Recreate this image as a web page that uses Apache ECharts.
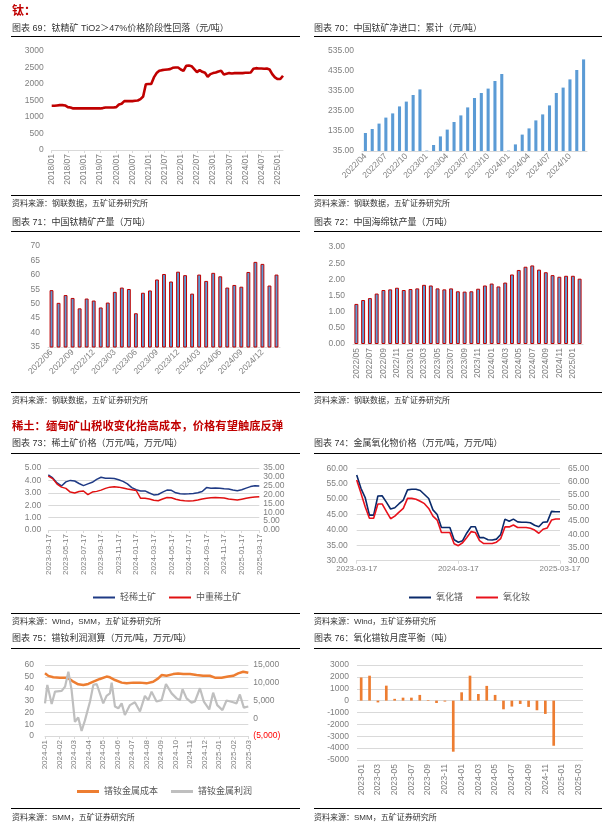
<!DOCTYPE html>
<html><head><meta charset="utf-8">
<script src="https://cdn.jsdelivr.net/npm/echarts/dist/echarts.min.js"></script>
<style>html,body{margin:0;padding:0;background:#fff}#c{width:611px;height:829px}</style>
</head><body><div id="c"></div>
<script>
function monthRange(y, m, n, sep) {
  const out = [];
  for (let i = 0; i < n; i++) {
    const mm = m - 1 + i;
    out.push((y + Math.floor(mm / 12)) + sep + String(mm % 12 + 1).padStart(2, '0'));
  }
  return out;
}
// ---- Chart 69: ilmenite price (元/吨), monthly 2018/01 - 2025/03
const months69 = monthRange(2018, 1, 87, '/');
const price69 = [1340,1340,1350,1360,1360,1350,1300,1290,1260,
  1260,1260,1260,1260,1260,1260,1260,1260,1260,1260,
  1270,1290,1290,1290,1290,
  1300,1380,1400,1480,1480,1480,1480,1490,1500,1540,1620,1990,
  2000,2000,2200,2330,2400,2420,2430,2440,2450,2490,2500,2500,
  2440,2400,2550,2560,2540,2450,2360,2420,2370,2340,2220,2300,
  2330,2350,2380,2400,2290,2310,2330,2320,2330,2330,2330,2330,
  2340,2340,2350,2460,2480,2470,2470,2460,2470,2440,2300,2200,
  2150,2150,2250];
// ---- Chart 70: titanium ore net import, cumulative
const cat70 = monthRange(2022, 4, 33, '/');
const imp70 = [125,145,172,202,223,258,282,315,343,
  37,65,108,142,180,213,253,300,325,347,385,420,
  37,68,117,148,188,218,263,325,352,393,440,493];
// ---- Chart 71: ilmenite output (万吨)
const cat71 = monthRange(2022, 6, 33, '/');
const prod71 = [54.7,50.3,53.0,52.0,48.4,51.8,51.1,48.7,50.4,54.1,55.6,55.1,46.7,53.8,54.6,58.4,60.3,
  57.7,61.1,59.9,53.5,60.1,57.9,60.7,59.5,55.6,56.5,55.9,61.0,64.5,63.8,56.3,60.1];
// ---- Chart 72: titanium sponge output (万吨)
const cat72 = monthRange(2022, 5, 34, '/');
const prod72 = [1.24,1.36,1.42,1.56,1.67,1.69,1.74,1.67,1.70,1.72,1.83,1.81,1.72,1.69,1.72,1.63,1.62,
  1.63,1.71,1.81,1.87,1.78,1.90,2.15,2.29,2.39,2.43,2.30,2.22,2.13,2.08,2.11,2.11,2.02];
// ---- Chart 73: rare earth ore prices, half-monthly 2023-03-17 .. 2025-03-17
const ticks73 = ['2023-03-17','2023-05-17','2023-07-17','2023-09-17','2023-11-17','2024-01-17','2024-03-17',
  '2024-05-17','2024-07-17','2024-09-17','2024-11-17','2025-01-17','2025-03-17'];
const light73 = [4.45,4.20,3.80,3.55,3.88,4.00,3.95,3.75,3.58,3.72,3.85,4.08,4.25,4.18,4.17,4.15,4.05,3.92,
  3.72,3.42,3.25,3.15,3.15,2.98,2.83,2.86,3.05,3.22,3.20,3.00,2.92,2.90,2.92,2.95,3.00,3.10,3.42,3.36,
  3.38,3.36,3.32,3.30,3.22,3.17,3.25,3.38,3.50,3.57,3.55];
const heavy73 = [30.4,29.0,25.9,24.2,23.5,21.4,20.9,21.7,22.0,20.0,21.4,21.8,22.5,23.5,24.2,24.4,24.2,23.7,
  23.1,22.7,22.3,17.9,17.9,17.5,16.8,16.5,17.5,18.3,18.2,17.4,16.8,16.5,16.4,16.5,16.9,17.5,17.9,18.2,
  18.3,18.2,18.1,17.5,17.2,16.9,17.4,17.9,18.3,18.6,18.8];
// ---- Chart 74: oxide prices, half-monthly
const ticks74 = ['2023-03-17','2024-03-17','2025-03-17'];
const pr74 = [57.8,53.5,50.5,44.8,44.8,51.0,51.1,49.0,46.8,47.2,48.5,49.7,53.0,53.2,53.2,52.8,51.5,50.2,
  46.5,45.0,40.8,40.8,40.8,36.8,36.0,36.5,39.0,41.0,41.0,37.5,37.5,36.8,36.7,37.0,38.5,43.5,42.8,43.5,
  42.6,42.5,42.5,42.3,41.5,41.0,42.5,42.6,46.0,45.9,45.9];
const nd74 = [60.6,55.6,50.4,46.1,46.1,51.5,51.5,48.7,45.9,46.9,48.4,49.8,53.6,53.6,53.3,52.5,51.6,49.8,
  46.9,45.4,40.7,40.7,40.7,36.4,35.7,36.8,38.8,41.0,40.7,37.6,36.5,36.5,36.5,37.0,38.4,42.8,42.8,43.5,
  42.6,42.6,42.6,42.3,41.6,40.4,41.9,42.4,45.4,45.8,45.8];
// ---- Chart 75: PrNd cost & profit (time in months from 2024-01)
const ticks75 = monthRange(2024, 1, 15, '-');
const costT75 = [0,0.23,0.57,1.03,1.49,1.72,1.95,2.29,2.64,2.98,3.33,3.78,4.24,4.47,4.82,5.28,5.62,6.08,6.54,
  6.99,7.45,7.8,8.03,8.37,8.83,9.17,9.52,9.98,10.44,10.89,11.35,11.7,12.16,12.61,12.96,13.3,13.65,14.0];
const costV75 = [53.0,50.8,49.6,49.3,49.3,47.9,45.9,43.7,43.1,44.0,45.9,48.2,50.2,49.6,47.3,45.1,44.5,45.1,45.1,
  44.5,45.9,48.7,51.5,50.9,52.3,52.9,52.4,52.4,51.5,50.9,50.9,49.3,49.3,50.2,50.9,52.9,54.3,53.4];
const profitT75 = [0,0.16,0.46,0.69,1.15,1.38,1.61,1.83,2.06,2.29,2.52,2.75,3.1,3.33,3.56,3.78,4.01,4.24,4.47,
  4.59,4.82,5.05,5.28,5.5,5.85,6.19,6.54,6.88,7.11,7.34,7.68,8.03,8.33,8.72,9.06,9.29,9.47,9.75,10.09,
  10.32,10.67,10.94,11.31,11.58,11.86,12.22,12.5,12.96,13.19,13.42,13.69,14.0];
const profitV75 = [4200,9400,4000,7500,7700,8900,13100,8000,-1000,200,-3600,-600,4700,9400,9650,7000,4200,
  6300,7000,10000,3300,2800,4200,900,3700,4500,1900,6300,5100,7500,4700,5100,9650,7000,5600,5100,8200,
  5600,4400,4700,8450,4700,2500,7200,3700,2300,5000,4500,4200,6700,3000,3300];
// ---- Chart 76: PrNd oxide monthly balance (吨)
const cat76 = monthRange(2023, 1, 27, '-');
const bal76 = [1950,2100,-150,1260,150,250,250,480,50,-200,-80,-4300,700,2100,560,1240,480,-730,-500,-280,
  -530,-810,-1120,-3800,null,null,null];

const FF = "'Liberation Sans','Noto Sans CJK SC',sans-serif";
const LBL = '#7f7f7f';
const GRIDC = '#d9d9d9';
const pairs = (t, v) => v.map((y, i) => [t ? t[i] : i, y]);
const fx2 = v => v.toFixed(2);
const plain = v => String(v);

function catX(grid, data, interval, rotate, extra) {
  return Object.assign({
    type: 'category', gridIndex: grid, data: data,
    axisLine: {lineStyle: {color: GRIDC}},
    axisTick: {show: false},
    axisLabel: {interval: interval, rotate: rotate, fontSize: 8.5, color: LBL, margin: 4, fontFamily: FF},
    splitLine: {show: false}
  }, extra || {});
}
function valX(grid, max, interval, fmt, rotate) {
  return {
    type: 'value', gridIndex: grid, min: 0, max: max, interval: interval,
    axisLine: {lineStyle: {color: GRIDC}},
    axisTick: {show: true, length: 3, lineStyle: {color: GRIDC}},
    axisLabel: {formatter: fmt, rotate: rotate, fontSize: 8, color: LBL, margin: 4, fontFamily: FF, showMinLabel: true, showMaxLabel: true},
    splitLine: {show: false}
  };
}
function valY(grid, min, max, interval, fmt, split, pos, margin) {
  return {
    type: 'value', gridIndex: grid, min: min, max: max, interval: interval, position: pos || 'left',
    axisLine: {show: false}, axisTick: {show: false},
    axisLabel: {formatter: fmt || plain, fontSize: 8.5, color: LBL, margin: margin || 8, fontFamily: FF},
    splitLine: {show: !!split, lineStyle: {color: GRIDC, width: 1}}
  };
}

const texts = [
  ['钛：', 12, 12, 'bold 12px', '#C00000'],
  ['图表 69：钛精矿 TiO2＞47%价格阶段性回落（元/吨）', 12, 29, '9px', '#333'],
  ['图表 70：中国钛矿净进口：累计（元/吨）', 314, 29, '9px', '#333'],
  ['资料来源：钢联数据，五矿证券研究所', 12, 204, '8px', '#333'],
  ['资料来源：钢联数据，五矿证券研究所', 314, 204, '8px', '#333'],
  ['图表 71：中国钛精矿产量（万吨）', 12, 223, '9px', '#333'],
  ['图表 72：中国海绵钛产量（万吨）', 314, 223, '9px', '#333'],
  ['资料来源：钢联数据，五矿证券研究所', 12, 401, '8px', '#333'],
  ['资料来源：钢联数据，五矿证券研究所', 314, 401, '8px', '#333'],
  ['稀土：缅甸矿山税收变化抬高成本，价格有望触底反弹', 12, 427, 'bold 11.3px', '#C00000'],
  ['图表 73：稀土矿价格（万元/吨，万元/吨）', 12, 444, '9px', '#333'],
  ['图表 74：金属氧化物价格（万元/吨，万元/吨）', 314, 444, '9px', '#333'],
  ['资料来源：Wind，SMM，五矿证券研究所', 12, 622, '8px', '#333'],
  ['资料来源：Wind，五矿证券研究所', 314, 622, '8px', '#333'],
  ['图表 75：镨钕利润测算（万元/吨，万元/吨）', 12, 639, '9px', '#333'],
  ['图表 76：氧化镨钕月度平衡（吨）', 314, 639, '9px', '#333'],
  ['资料来源：SMM，五矿证券研究所', 12, 818, '8px', '#333'],
  ['资料来源：SMM，五矿证券研究所', 314, 818, '8px', '#333']
];
const ruleY = [36, 195, 231, 392, 453, 613, 648, 808];
const graphic = [];
texts.forEach(t => graphic.push({type: 'text', x: t[1], y: t[2], silent: true,
  style: {text: t[0], font: t[3] + ' ' + FF, fill: t[4], verticalAlign: 'middle'}}));
ruleY.forEach(y => {
  graphic.push({type: 'line', silent: true, shape: {x1: 11, y1: y + 0.5, x2: 300, y2: y + 0.5}, style: {stroke: '#000', lineWidth: 1}});
  graphic.push({type: 'line', silent: true, shape: {x1: 314, y1: y + 0.5, x2: 602, y2: y + 0.5}, style: {stroke: '#000', lineWidth: 1}});
});

const legendBase = {icon: 'rect', itemWidth: 22, itemHeight: 2, itemGap: 13,
  textStyle: {fontSize: 9, color: '#595959', fontFamily: FF}};

const option = {
  animation: false,
  textStyle: {fontFamily: FF},
  graphic: graphic,
  grid: [
    {left: 51.7, top: 51, width: 231.3, height: 99},
    {left: 362, top: 51, width: 225, height: 100},
    {left: 48, top: 246, width: 232, height: 101},
    {left: 353, top: 247, width: 230, height: 97},
    {left: 48.3, top: 468, width: 211, height: 62},
    {left: 356.7, top: 468.3, width: 203.3, height: 92.4},
    {left: 45, top: 665, width: 203.3, height: 71},
    {left: 357, top: 665, width: 226, height: 95}
  ],
  legend: [
    Object.assign({}, legendBase, {data: ['轻稀土矿', '中重稀土矿'], left: 88, top: 588}),
    Object.assign({}, legendBase, {data: ['氧化镨', '氧化钕'], left: 404, top: 588}),
    Object.assign({}, legendBase, {data: ['镨钕金属成本', '镨钕金属利润'], left: 72, top: 782, itemHeight: 3})
  ],
  xAxis: [
    catX(0, months69, 5, 90, {boundaryGap: false, axisTick: {show: true, interval: 5, length: 3, lineStyle: {color: GRIDC}}}),
    catX(1, cat70, 2, 45),
    catX(2, cat71, 2, 45),
    catX(3, cat72, 1, 90),
    valX(4, 48, 4, v => ticks73[v / 4], 90),
    valX(5, 48, 24, v => ticks74[v / 24], 0),
    valX(6, 14, 1, v => ticks75[v], 90),
    catX(7, cat76, 1, 90, {axisLine: {show: false, onZero: false}})
  ],
  yAxis: [
    valY(0, 0, 3000, 500, null, false),
    valY(1, 35, 535, 100, fx2, false),
    valY(2, 35, 70, 5, null, false),
    valY(3, 0, 3, 0.5, fx2, false),
    valY(4, 0, 5, 1, fx2, true, 'left', 7),
    valY(4, 0, 35, 5, fx2, false, 'right', 4),
    valY(5, 30, 60, 5, fx2, true, 'left', 9),
    valY(5, 30, 65, 5, fx2, false, 'right', 8),
    valY(6, 0, 60, 10, null, true, 'left', 11),
    valY(6, -5000, 15000, 5000, v => {
      const s = Math.abs(v).toLocaleString('en-US');
      return v < 0 ? '(' + s + ')' : s;
    }, false, 'right', 5),
    valY(7, -5000, 3000, 1000, null, true)
  ],
  series: [
    {type: 'line', name: '钛精矿价格', xAxisIndex: 0, yAxisIndex: 0, data: price69, showSymbol: false,
      lineStyle: {color: '#C00000', width: 2.6}, itemStyle: {color: '#C00000'}},
    {type: 'bar', name: '净进口累计', xAxisIndex: 1, yAxisIndex: 1, data: imp70, barWidth: '45%',
      itemStyle: {color: '#5B9BD5'}},
    {type: 'bar', name: '钛精矿产量', xAxisIndex: 2, yAxisIndex: 2, data: prod71, barWidth: '55%',
      itemStyle: {color: '#5B9BD5', borderColor: '#C00000', borderWidth: 1}},
    {type: 'bar', name: '海绵钛产量', xAxisIndex: 3, yAxisIndex: 3, data: prod72, barWidth: '58%',
      itemStyle: {color: '#5B9BD5', borderColor: '#C00000', borderWidth: 1}},
    {type: 'line', name: '轻稀土矿', xAxisIndex: 4, yAxisIndex: 4, data: pairs(null, light73), showSymbol: false,
      lineStyle: {color: '#1F3A85', width: 1.5}, itemStyle: {color: '#1F3A85'}},
    {type: 'line', name: '中重稀土矿', xAxisIndex: 4, yAxisIndex: 5, data: pairs(null, heavy73), showSymbol: false,
      lineStyle: {color: '#E01010', width: 1.5}, itemStyle: {color: '#E01010'}},
    {type: 'line', name: '氧化镨', xAxisIndex: 5, yAxisIndex: 6, data: pairs(null, pr74), showSymbol: false,
      lineStyle: {color: '#0A2A6B', width: 1.6}, itemStyle: {color: '#0A2A6B'}},
    {type: 'line', name: '氧化钕', xAxisIndex: 5, yAxisIndex: 7, data: pairs(null, nd74), showSymbol: false,
      lineStyle: {color: '#E8121C', width: 1.6}, itemStyle: {color: '#E8121C'}},
    {type: 'line', name: '镨钕金属成本', xAxisIndex: 6, yAxisIndex: 8, data: pairs(costT75, costV75), showSymbol: false,
      lineStyle: {color: '#ED7D31', width: 2.5}, itemStyle: {color: '#ED7D31'}},
    {type: 'line', name: '镨钕金属利润', xAxisIndex: 6, yAxisIndex: 9, data: pairs(profitT75, profitV75), showSymbol: false,
      lineStyle: {color: '#BFBFBF', width: 2.2}, itemStyle: {color: '#BFBFBF'}},
    {type: 'bar', name: '月度平衡', xAxisIndex: 7, yAxisIndex: 10, data: bal76, barWidth: '32%',
      itemStyle: {color: '#ED7D31'}}
  ]
};
option.yAxis[9].axisLabel.color = v => (v < 0 ? '#FF0000' : LBL);
const chart = echarts.init(document.getElementById('c'), null, {renderer: 'canvas'});
chart.setOption(option);
</script>
</body></html>
